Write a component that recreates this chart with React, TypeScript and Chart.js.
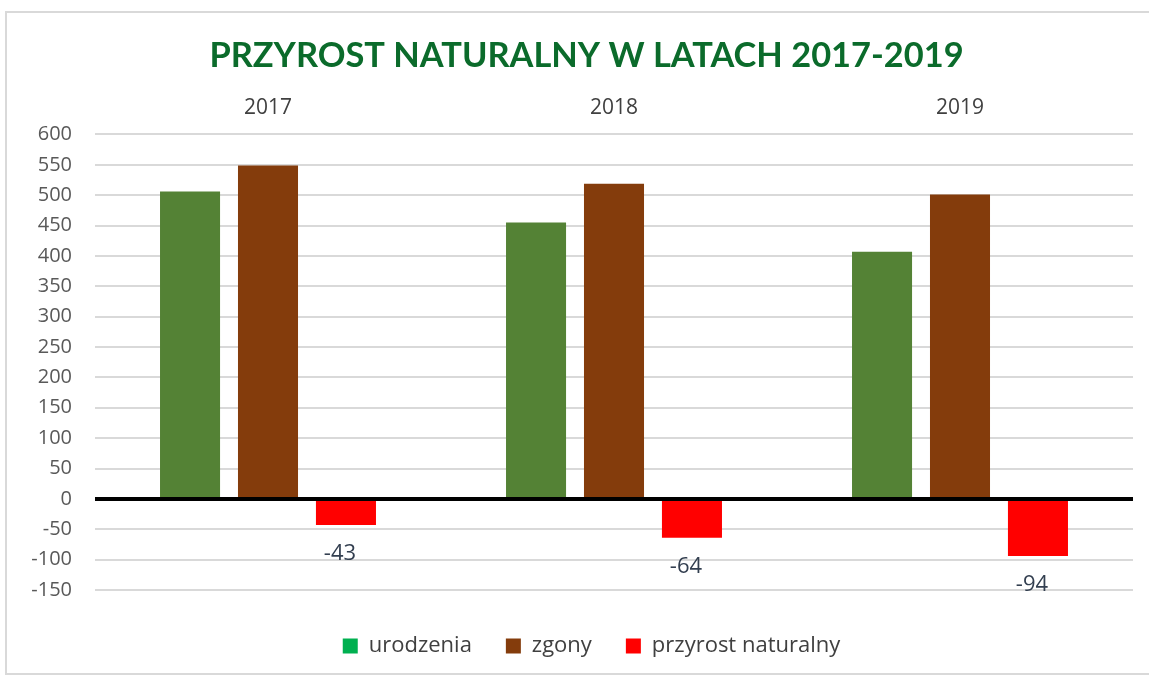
import React, { useEffect, useRef } from "react";
import { Chart, registerables } from "chart.js";

Chart.register(...registerables);

const categories = ["2017", "2018", "2019"];
const urodzenia = [506, 455, 407];
const zgony = [549, 519, 501];
const przyrost = [-43, -64, -94];
const seriesNames = ["urodzenia", "zgony", "przyrost naturalny"];
const yMin = -150;
const yMax = 600;
const yStep = 50;

const barColors = ["#548235", "#843c0c", "#ff0000"];
const legendColors = ["#00b050", "#843c0c", "#ff0000"];

const FONT = "'Open Sans', 'DejaVu Sans', sans-serif";
const TITLE_SHIFT = 20;
const LEGEND_SHIFT = 25;

const labelPlugin = {
  id: "redLabels",
  afterLayout(chart: any) {
    if (chart.titleBlock) {
      chart.titleBlock.left += TITLE_SHIFT;
      chart.titleBlock.right += TITLE_SHIFT;
    }
    if (chart.legend) {
      chart.legend.left += LEGEND_SHIFT;
      chart.legend.right += LEGEND_SHIFT;
    }
  },
  afterDatasetsDraw(chart: any) {
    const ctx = chart.ctx;
    const meta = chart.getDatasetMeta(2);
    ctx.save();
    ctx.font = `22px ${FONT}`;
    ctx.fillStyle = "#333f50";
    ctx.textAlign = "center";
    ctx.textBaseline = "middle";
    meta.data.forEach((bar: any, i: number) => {
      ctx.fillText(String(przyrost[i]), bar.x - 6, bar.y + 29);
    });
    ctx.restore();
  },
};

export default function App() {
  const ref = useRef<HTMLCanvasElement>(null);
  useEffect(() => {
    document.body.style.margin = "0";
    const chart = new Chart(ref.current!, {
      type: "bar",
      data: {
        labels: categories,
        datasets: [
          { label: seriesNames[0], data: urodzenia, backgroundColor: barColors[0] },
          { label: seriesNames[1], data: zgony, backgroundColor: barColors[1] },
          { label: seriesNames[2], data: przyrost, backgroundColor: barColors[2] },
        ],
      },
      options: {
        animation: false,
        responsive: false,
        maintainAspectRatio: false,
        datasets: { bar: { categoryPercentage: 0.676, barPercentage: 0.77 } },
        layout: { padding: { left: 0, right: 16, top: 0, bottom: 10 } },
        plugins: {
          tooltip: { enabled: false },
          title: {
            display: true,
            text: "PRZYROST NATURALNY W LATACH 2017-2019",
            color: "#0b6b2b",
            font: { family: "Lato, 'Open Sans', sans-serif", size: 34.4, weight: "bold", lineHeight: 1.2 },
            padding: { top: 35, bottom: 13 },
          },
          legend: {
            position: "bottom",
            title: { display: true, text: " ", font: { size: 11, lineHeight: 1 }, padding: { top: 0, bottom: 0 } },
            labels: {
              boxWidth: 15,
              boxHeight: 15,
              padding: 34,
              color: "#404040",
              font: { family: FONT, size: 22 },
              generateLabels: (chart: any) =>
                chart.data.datasets.map((ds: any, i: number) => ({
                  text: ds.label,
                  fillStyle: legendColors[i],
                  strokeStyle: legendColors[i],
                  lineWidth: 0,
                  hidden: false,
                  datasetIndex: i,
                  fontColor: "#404040",
                })),
            },
          },
        },
        scales: {
          x: {
            position: "top",
            grid: { display: false },
            border: { display: false },
            ticks: { color: "#404040", font: { family: FONT, size: 21 }, padding: 6 },
          },
          y: {
            min: yMin,
            max: yMax,
            border: { display: false },
            grid: {
              drawTicks: false,
              color: (c: any) => (c.tick && c.tick.value === 0 ? "#000000" : "#d9d9d9"),
              lineWidth: (c: any) => (c.tick && c.tick.value === 0 ? 4 : 2),
            },
            ticks: {
              stepSize: yStep,
              color: "#595959",
              padding: 23,
              font: { family: FONT, size: 20 },
            },
            afterFit: (scale: any) => {
              scale.width = 95;
            },
          },
        },
      },
      plugins: [labelPlugin],
    });
    return () => chart.destroy();
  }, []);

  return (
    <div style={{ position: "relative", width: 1149, height: 677, background: "#ffffff", overflow: "hidden" }}>
      <div
        style={{
          position: "absolute",
          left: 5,
          top: 11,
          width: 1160,
          height: 664,
          border: "2px solid #d9d9d9",
          boxSizing: "border-box",
        }}
      />
      <canvas ref={ref} width={1149} height={677} style={{ position: "absolute", left: 0, top: 0 }} />
    </div>
  );
}
